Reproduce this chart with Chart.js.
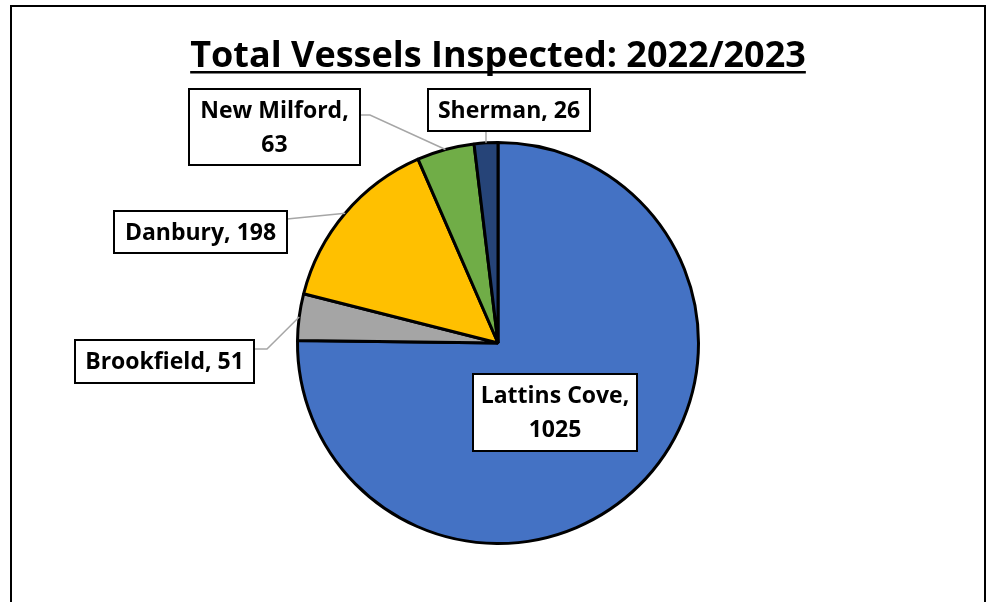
<!DOCTYPE html>
<html>
<head>
<meta charset="utf-8">
<title>Total Vessels Inspected: 2022/2023</title>
<script src="https://cdn.jsdelivr.net/npm/chart.js@4/dist/chart.umd.min.js"></script>
<style>
  html, body { margin: 0; padding: 0; background: #ffffff; }
  #wrap { position: relative; width: 993px; height: 602px; }
</style>
</head>
<body>
<div id="wrap"><canvas id="chart" width="993" height="602"></canvas></div>
<script>
// Inspection counts by launch site, 2022/2023 season
const sites = ['Lattins Cove', 'Brookfield', 'Danbury', 'New Milford', 'Sherman'];
const vessels = [1025, 51, 198, 63, 26];
const sliceColors = ['#4472C4', '#A5A5A5', '#FFC000', '#70AD47', '#264478'];
const chartTitle = 'Total Vessels Inspected: 2022/2023';

// Callout boxes: box rectangle, how many text lines, and the leader route
const callouts = [
  { box: [473, 374, 164, 77], lines: 2, leader: null },
  { box: [75, 340, 179, 43], lines: 1, leader: { from: 'right', y: 349, elbow: 13 } },
  { box: [114, 211, 173, 42], lines: 1, leader: { from: 'right', y: 219, elbow: 0 } },
  { box: [189, 89, 171, 76], lines: 2, leader: { from: 'right', y: 115, elbow: 10 } },
  { box: [428, 89, 162, 42], lines: 1, leader: { from: 'bottom' } }
];

const FONT = '"Open Sans", Lato, "Liberation Sans", sans-serif';

const framePlugin = {
  id: 'frame',
  beforeDraw(chart) {
    const ctx = chart.ctx;
    ctx.save();
    ctx.fillStyle = '#ffffff';
    ctx.fillRect(0, 0, chart.width, chart.height);
    ctx.strokeStyle = '#000000';
    ctx.lineWidth = 2;
    ctx.strokeRect(11, 6, 974, 700);
    ctx.restore();
  }
};

const titlePlugin = {
  id: 'underlinedTitle',
  afterDraw(chart) {
    const ctx = chart.ctx;
    ctx.save();
    ctx.font = 'bold 36px ' + FONT;
    ctx.fillStyle = '#000000';
    ctx.textAlign = 'center';
    ctx.textBaseline = 'alphabetic';
    const cx = 498, base = 67;
    ctx.fillText(chartTitle, cx, base);
    const w = ctx.measureText(chartTitle).width;
    ctx.fillRect(cx - w / 2, base + 4, w, 2.5);
    ctx.restore();
  }
};

const calloutPlugin = {
  id: 'callouts',
  afterDatasetsDraw(chart) {
    const ctx = chart.ctx;
    const meta = chart.getDatasetMeta(0);
    const labels = chart.data.labels;
    const values = chart.data.datasets[0].data;
    ctx.save();
    meta.data.forEach((arc, i) => {
      const c = callouts[i];
      const [bx, by, bw, bh] = c.box;
      const mid = (arc.startAngle + arc.endAngle) / 2;
      const r = arc.outerRadius;
      const ax = arc.x + Math.cos(mid) * r;
      const ay = arc.y + Math.sin(mid) * r;

      if (c.leader) {
        ctx.strokeStyle = '#A6A6A6';
        ctx.lineWidth = 1.5;
        ctx.beginPath();
        if (c.leader.from === 'right') {
          ctx.moveTo(bx + bw, c.leader.y);
          if (c.leader.elbow) ctx.lineTo(bx + bw + c.leader.elbow, c.leader.y);
        } else {
          ctx.moveTo(ax, by + bh);
        }
        ctx.lineTo(ax, ay);
        ctx.stroke();
      }

      ctx.fillStyle = '#ffffff';
      ctx.fillRect(bx, by, bw, bh);
      ctx.strokeStyle = '#000000';
      ctx.lineWidth = 2;
      ctx.strokeRect(bx, by, bw, bh);

      ctx.fillStyle = '#000000';
      ctx.font = 'bold 23px ' + FONT;
      ctx.textAlign = 'center';
      ctx.textBaseline = 'middle';
      const tx = bx + bw / 2;
      if (c.lines === 2) {
        ctx.fillText(labels[i] + ',', tx, by + bh / 2 - 16);
        ctx.fillText(String(values[i]), tx, by + bh / 2 + 18);
      } else {
        ctx.fillText(labels[i] + ', ' + values[i], tx, by + bh / 2 + 1);
      }
    });
    ctx.restore();
  }
};

new Chart(document.getElementById('chart'), {
  type: 'pie',
  data: {
    labels: sites,
    datasets: [{
      data: vessels,
      backgroundColor: sliceColors,
      borderColor: '#000000',
      borderWidth: 3
    }]
  },
  options: {
    responsive: false,
    animation: false,
    layout: { padding: { left: 248, right: 245, top: 141, bottom: 57 } },
    plugins: {
      legend: { display: false },
      title: { display: false },
      tooltip: { enabled: false }
    }
  },
  plugins: [framePlugin, calloutPlugin, titlePlugin]
});
</script>
</body>
</html>
